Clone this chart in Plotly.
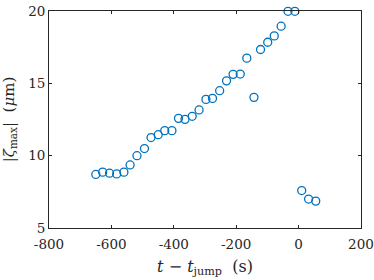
import plotly.graph_objects as go

t_rel = [-650, -628, -606, -583, -560, -540, -518, -494, -473, -450, -429, -406,
         -385, -364, -341, -319, -297, -276, -253, -231, -210, -187, -166, -143,
         -122, -99, -78, -56, -34, -12, 10, 32, 55]
zeta_max = [8.70, 8.86, 8.79, 8.74, 8.86, 9.36, 10.0, 10.49, 11.25, 11.45, 11.73, 11.73,
            12.58, 12.51, 12.72, 13.16, 13.89, 13.96, 14.49, 15.17, 15.62, 15.64, 16.74, 14.03,
            17.34, 17.84, 18.28, 18.95, 19.98, 19.98, 7.59, 7.0, 6.86]

x_ticks = [-800, -600, -400, -200, 0, 200]
y_ticks = [5, 10, 15, 20]

FONT = "DejaVu Serif"

fig = go.Figure()
fig.add_trace(go.Scatter(
    x=t_rel, y=zeta_max, mode="markers",
    marker=dict(symbol="circle-open", size=8, color="#0072BD", line=dict(width=1.3, color="#0072BD")),
    cliponaxis=False, showlegend=False, hoverinfo="skip"))

axis_common = dict(
    automargin=False,
    showgrid=False, zeroline=False, showline=True, linecolor="#262626", linewidth=0.8,
    mirror="ticks", ticks="inside", ticklen=3, tickwidth=0.8, tickcolor="#262626",
    tickfont=dict(family=FONT, size=13.5, color="#262626"),
)

fig.update_layout(
    template="none",
    width=374, height=280,
    margin=dict(l=49, r=13, t=11, b=52),
    paper_bgcolor="white", plot_bgcolor="white",
    font=dict(family=FONT, color="#262626"),
    xaxis=dict(range=[-800, 200], tickvals=x_ticks, ticktext=[str(v) for v in x_ticks],
               ticklabelstandoff=4,
               title=dict(text="<i>t</i> − <i>t</i><sub>jump</sub>  (s)", standoff=9,
                          font=dict(family=FONT, size=16, color="#262626")),
               **axis_common),
    yaxis=dict(range=[5, 20], tickvals=y_ticks, ticktext=[str(v) for v in y_ticks],
               title=dict(text="|<i>ζ</i><sub>max</sub>|  (<i>μ</i>m)", standoff=12,
                          font=dict(family=FONT, size=15, color="#262626")),
               **axis_common),
)

fig.write_html("out.html", config={"displayModeBar": False},
               post_script="document.body.style.margin='0';document.body.style.overflow='hidden';")
